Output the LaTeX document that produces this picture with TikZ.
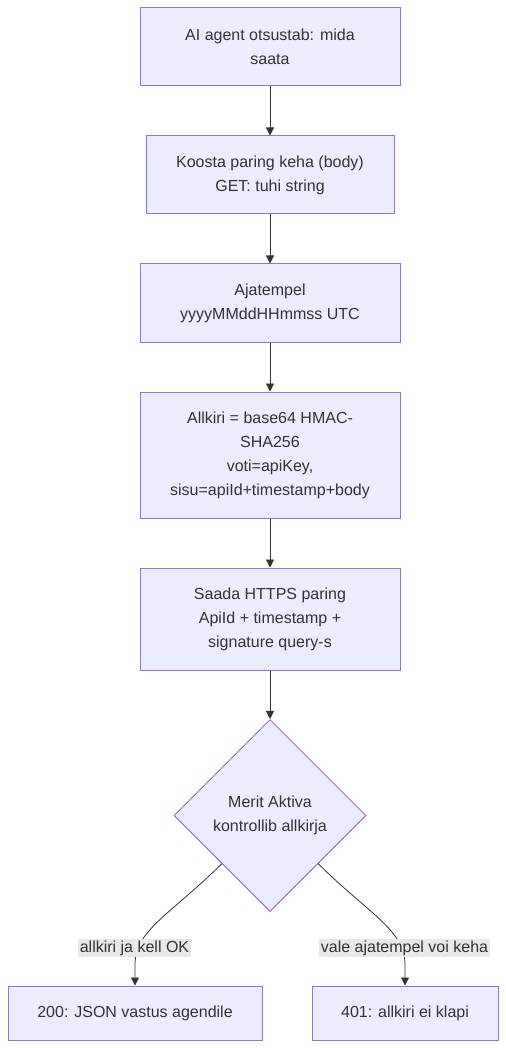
\documentclass[tikz,border=0pt]{standalone}
\usepackage{fontspec}
\setmainfont{Liberation Sans}
\usetikzlibrary{shapes.geometric,arrows.meta}
\definecolor{boxfill}{HTML}{ECECFF}
\definecolor{boxline}{HTML}{9370DB}
\definecolor{ink}{HTML}{333333}
\definecolor{lablbg}{HTML}{E8E8E8}
\tikzset{
  flowbox/.style={draw=boxline, fill=boxfill, line width=0.75pt, text=ink, align=center, inner sep=0pt, font=\fontsize{12pt}{18pt}\selectfont},
  decision/.style={flowbox, shape=diamond, aspect=1, minimum width=144pt, minimum height=144pt},
  flowline/.style={draw=ink, line width=0.6pt, -{Triangle[length=6pt,width=6pt]}},
  edgelabel/.style={fill=lablbg, text=ink, inner sep=1.5pt, font=\fontsize{12pt}{18pt}\selectfont}
}
\newcommand{\flowarrow}[2]{\draw[flowline] (#1) -- (#2);}
\begin{document}
\begin{tikzpicture}[x=0.75pt, y=-0.75pt]
        \useasboundingbox (0,0) rectangle (506,1048);
        % column
        \node[flowbox, minimum width=195pt, minimum height=58.5pt] (agent) at (270,47) {AI agent otsustab: mida\\saata};
        \node[flowbox, minimum width=186pt, minimum height=58.5pt] (body) at (270,175) {Koosta paring keha (body)\\GET: tuhi string};
        \node[flowbox, minimum width=195pt, minimum height=58.5pt] (stamp) at (270,303) {Ajatempel\\yyyyMMddHHmmss UTC};
        \node[flowbox, minimum width=195pt, minimum height=94.5pt] (sign) at (270,455) {Allkiri = base64 HMAC-\\SHA256\\voti=apiKey,\\sisu=apiId+timestamp+body};
        \node[flowbox, minimum width=195pt, minimum height=76.5pt] (send) at (270,619) {Saada HTTPS paring\\ApiId + timestamp +\\signature query-s};
        \node[decision] (check) at (270,815.5) {Merit Aktiva\\kontrollib allkirja};
        % results
        \node[flowbox, minimum width=190.5pt, minimum height=40.5pt] (ok) at (135,1013) {200: JSON vastus agendile};
        \node[flowbox, minimum width=139.5pt, minimum height=40.5pt] (fail) at (405,1013) {401: allkiri ei klapi};

        % arrows
        \flowarrow{agent}{body}
        \flowarrow{body}{stamp}
        \flowarrow{stamp}{sign}
        \flowarrow{sign}{send}
        \flowarrow{send}{check}
        \draw[flowline] (check.south west) .. controls (170,915) and (135,930) .. (135,965) -- (ok.north);
        \draw[flowline] (check.south east) .. controls (370,915) and (405,930) .. (405,965) -- (fail.north);
        % labels
        \node[edgelabel] (oklabel) at (134.5,948) {allkiri ja kell OK};
        \node[edgelabel] (faillabel) at (404.5,948) {vale ajatempel voi keha};
    \end{tikzpicture}
\end{document}
